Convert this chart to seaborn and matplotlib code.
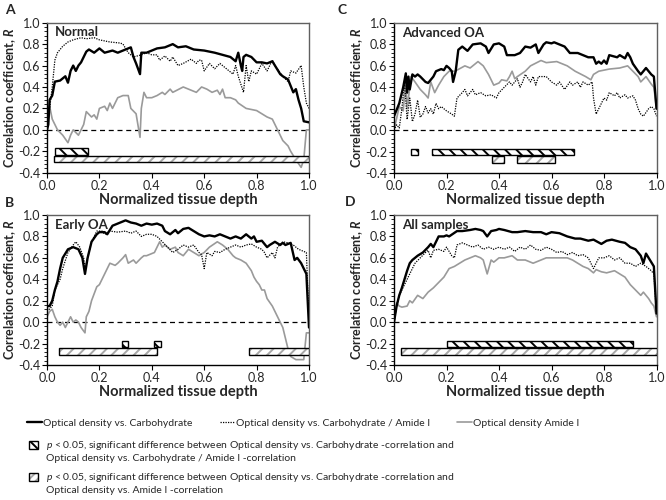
import pandas as pd
import seaborn as sns
import matplotlib.pyplot as plt
from matplotlib.patches import Patch
from matplotlib.lines import Line2D
from matplotlib.ticker import MultipleLocator, FormatStrFormatter

# (normalized depth, R)
A_carb = [(0.0, 0.0), (0.005, 0.05), (0.01, 0.28), (0.02, 0.32), (0.03, 0.45), (0.05, 0.46), (0.06, 0.48),
          (0.07, 0.5), (0.08, 0.44), (0.09, 0.55), (0.1, 0.6), (0.11, 0.55), (0.12, 0.6), (0.13, 0.63),
          (0.14, 0.68), (0.15, 0.73), (0.16, 0.75), (0.18, 0.72), (0.2, 0.76), (0.22, 0.72), (0.25, 0.74),
          (0.27, 0.72), (0.3, 0.75), (0.32, 0.77), (0.33, 0.68), (0.34, 0.62), (0.355, 0.52), (0.36, 0.72),
          (0.38, 0.72), (0.4, 0.74), (0.42, 0.76), (0.45, 0.77), (0.48, 0.8), (0.5, 0.77), (0.53, 0.78),
          (0.56, 0.75), (0.6, 0.74), (0.64, 0.72), (0.67, 0.7), (0.7, 0.68), (0.72, 0.64), (0.73, 0.72),
          (0.74, 0.6), (0.745, 0.55), (0.75, 0.68), (0.76, 0.7), (0.78, 0.68), (0.8, 0.63), (0.82, 0.63),
          (0.84, 0.62), (0.86, 0.64), (0.87, 0.6), (0.89, 0.52), (0.9, 0.5), (0.92, 0.47), (0.94, 0.35),
          (0.95, 0.38), (0.96, 0.28), (0.97, 0.2), (0.98, 0.08), (1.0, 0.07)]
A_ratio = [(0.0, 0.0), (0.02, 0.4), (0.03, 0.65), (0.04, 0.72), (0.06, 0.78), (0.08, 0.82), (0.1, 0.84),
           (0.13, 0.86), (0.15, 0.85), (0.18, 0.86), (0.2, 0.84), (0.24, 0.82), (0.28, 0.81), (0.29, 0.8),
           (0.3, 0.76), (0.31, 0.72), (0.33, 0.68), (0.36, 0.7), (0.38, 0.72), (0.4, 0.7), (0.42, 0.7),
           (0.43, 0.65), (0.45, 0.69), (0.47, 0.64), (0.48, 0.68), (0.5, 0.6), (0.52, 0.62), (0.55, 0.66),
           (0.57, 0.62), (0.58, 0.65), (0.59, 0.65), (0.6, 0.55), (0.62, 0.62), (0.64, 0.57), (0.66, 0.62),
           (0.68, 0.58), (0.71, 0.52), (0.72, 0.6), (0.73, 0.5), (0.75, 0.35), (0.76, 0.6), (0.77, 0.45),
           (0.78, 0.55), (0.8, 0.52), (0.82, 0.62), (0.84, 0.55), (0.86, 0.65), (0.87, 0.6), (0.9, 0.5),
           (0.92, 0.45), (0.93, 0.55), (0.95, 0.53), (0.97, 0.6), (0.98, 0.4), (0.99, 0.25), (1.0, 0.2)]
A_amide = [(0.0, 0.0), (0.01, 0.22), (0.02, 0.1), (0.04, 0.0), (0.06, -0.05), (0.08, -0.12), (0.09, -0.05),
           (0.1, 0.0), (0.12, -0.05), (0.14, 0.05), (0.15, 0.17), (0.17, 0.12), (0.18, 0.14), (0.19, 0.1),
           (0.2, 0.2), (0.22, 0.22), (0.23, 0.18), (0.24, 0.25), (0.25, 0.2), (0.27, 0.3), (0.29, 0.32),
           (0.31, 0.32), (0.32, 0.2), (0.34, 0.15), (0.355, -0.07), (0.36, 0.2), (0.37, 0.35), (0.38, 0.3),
           (0.4, 0.3), (0.42, 0.32), (0.44, 0.35), (0.45, 0.33), (0.47, 0.38), (0.48, 0.35), (0.52, 0.4),
           (0.55, 0.37), (0.57, 0.35), (0.59, 0.4), (0.61, 0.38), (0.63, 0.35), (0.65, 0.37), (0.66, 0.33),
           (0.67, 0.38), (0.68, 0.3), (0.7, 0.3), (0.72, 0.28), (0.73, 0.25), (0.76, 0.2), (0.8, 0.18),
           (0.82, 0.15), (0.84, 0.12), (0.86, 0.1), (0.88, 0.0), (0.9, -0.1), (0.92, -0.15), (0.93, -0.2),
           (0.95, -0.28), (0.97, -0.35), (0.98, -0.28), (0.99, 0.0), (1.0, 0.0)]

B_carb = [(0.0, 0.15), (0.01, 0.15), (0.02, 0.2), (0.03, 0.3), (0.04, 0.38), (0.05, 0.5), (0.06, 0.6),
          (0.08, 0.68), (0.1, 0.7), (0.12, 0.68), (0.135, 0.6), (0.145, 0.45), (0.155, 0.6), (0.17, 0.75),
          (0.19, 0.82), (0.2, 0.84), (0.22, 0.84), (0.23, 0.82), (0.25, 0.9), (0.27, 0.92), (0.29, 0.94),
          (0.3, 0.95), (0.32, 0.93), (0.34, 0.92), (0.36, 0.9), (0.38, 0.92), (0.4, 0.91), (0.42, 0.92),
          (0.44, 0.9), (0.45, 0.85), (0.47, 0.82), (0.49, 0.86), (0.5, 0.83), (0.52, 0.87), (0.54, 0.88),
          (0.56, 0.85), (0.58, 0.82), (0.6, 0.8), (0.62, 0.81), (0.64, 0.8), (0.66, 0.82), (0.68, 0.8),
          (0.7, 0.78), (0.72, 0.8), (0.74, 0.78), (0.76, 0.82), (0.78, 0.78), (0.79, 0.8), (0.8, 0.75),
          (0.82, 0.76), (0.84, 0.7), (0.85, 0.72), (0.87, 0.75), (0.89, 0.72), (0.9, 0.74), (0.91, 0.72),
          (0.93, 0.74), (0.945, 0.58), (0.955, 0.6), (0.97, 0.55), (0.98, 0.5), (0.99, 0.45), (1.0, -0.05)]
B_ratio = [(0.0, 0.1), (0.02, 0.15), (0.03, 0.3), (0.05, 0.4), (0.06, 0.5), (0.08, 0.65), (0.1, 0.72),
           (0.11, 0.75), (0.125, 0.7), (0.14, 0.6), (0.145, 0.5), (0.155, 0.6), (0.17, 0.75), (0.19, 0.85),
           (0.21, 0.85), (0.22, 0.82), (0.24, 0.85), (0.27, 0.84), (0.3, 0.85), (0.32, 0.83), (0.34, 0.85),
           (0.36, 0.8), (0.38, 0.82), (0.4, 0.82), (0.42, 0.8), (0.44, 0.75), (0.46, 0.7), (0.48, 0.65),
           (0.5, 0.68), (0.52, 0.72), (0.54, 0.7), (0.56, 0.72), (0.58, 0.65), (0.59, 0.63), (0.6, 0.5),
           (0.61, 0.65), (0.63, 0.62), (0.64, 0.66), (0.66, 0.65), (0.68, 0.68), (0.7, 0.7), (0.72, 0.72),
           (0.74, 0.7), (0.76, 0.72), (0.78, 0.73), (0.8, 0.7), (0.82, 0.68), (0.83, 0.65), (0.84, 0.6),
           (0.86, 0.65), (0.87, 0.6), (0.88, 0.7), (0.9, 0.75), (0.92, 0.74), (0.94, 0.72), (0.96, 0.68),
           (0.99, 0.65), (1.0, 0.0)]
B_amide = [(0.0, 0.05), (0.01, 0.1), (0.02, 0.12), (0.03, 0.05), (0.04, 0.0), (0.05, -0.03), (0.06, 0.0),
           (0.07, -0.05), (0.08, 0.0), (0.09, 0.05), (0.1, 0.0), (0.11, 0.02), (0.12, 0.0), (0.13, -0.05),
           (0.145, -0.1), (0.15, 0.05), (0.16, 0.1), (0.17, 0.2), (0.19, 0.33), (0.2, 0.35), (0.21, 0.4),
           (0.23, 0.5), (0.24, 0.55), (0.26, 0.53), (0.27, 0.55), (0.29, 0.6), (0.3, 0.63), (0.31, 0.55),
           (0.33, 0.58), (0.34, 0.55), (0.36, 0.6), (0.37, 0.62), (0.38, 0.62), (0.39, 0.63), (0.41, 0.65),
           (0.42, 0.7), (0.43, 0.75), (0.44, 0.7), (0.45, 0.72), (0.47, 0.68), (0.49, 0.7), (0.5, 0.65),
           (0.52, 0.62), (0.54, 0.68), (0.56, 0.65), (0.58, 0.62), (0.6, 0.65), (0.62, 0.7), (0.65, 0.75),
           (0.67, 0.72), (0.69, 0.68), (0.71, 0.62), (0.72, 0.6), (0.74, 0.58), (0.76, 0.55), (0.78, 0.48),
           (0.79, 0.42), (0.8, 0.38), (0.81, 0.35), (0.82, 0.3), (0.83, 0.3), (0.84, 0.22), (0.86, 0.15),
           (0.88, 0.05), (0.9, -0.05), (0.91, -0.15), (0.92, -0.25), (0.93, -0.32), (0.95, -0.35),
           (0.97, -0.35), (0.98, -0.35), (0.99, -0.1), (1.0, -0.1)]

C_carb = [(0.0, 0.13), (0.02, 0.25), (0.035, 0.4), (0.045, 0.53), (0.05, 0.35), (0.055, 0.5), (0.06, 0.38),
          (0.07, 0.52), (0.08, 0.5), (0.09, 0.52), (0.1, 0.5), (0.12, 0.45), (0.13, 0.44), (0.15, 0.5),
          (0.16, 0.55), (0.18, 0.57), (0.19, 0.56), (0.2, 0.6), (0.21, 0.58), (0.22, 0.55), (0.225, 0.45),
          (0.235, 0.55), (0.245, 0.75), (0.26, 0.78), (0.28, 0.74), (0.3, 0.8), (0.33, 0.81), (0.35, 0.78),
          (0.36, 0.72), (0.38, 0.8), (0.4, 0.81), (0.42, 0.78), (0.43, 0.7), (0.46, 0.7), (0.48, 0.72),
          (0.5, 0.78), (0.52, 0.77), (0.54, 0.8), (0.55, 0.72), (0.57, 0.8), (0.58, 0.82), (0.6, 0.81),
          (0.61, 0.82), (0.63, 0.8), (0.65, 0.78), (0.67, 0.72), (0.7, 0.72), (0.72, 0.7), (0.74, 0.68),
          (0.76, 0.68), (0.77, 0.62), (0.78, 0.64), (0.79, 0.62), (0.8, 0.65), (0.81, 0.62), (0.82, 0.7),
          (0.85, 0.68), (0.86, 0.7), (0.88, 0.67), (0.89, 0.72), (0.9, 0.68), (0.91, 0.62), (0.93, 0.55),
          (0.94, 0.52), (0.96, 0.58), (0.98, 0.52), (0.99, 0.5), (1.0, 0.2)]
C_ratio = [(0.0, 0.0), (0.01, 0.05), (0.02, 0.02), (0.03, 0.2), (0.04, 0.45), (0.05, 0.1), (0.06, 0.3),
           (0.07, 0.08), (0.08, 0.15), (0.09, 0.28), (0.1, 0.12), (0.11, 0.15), (0.12, 0.22), (0.13, 0.16),
           (0.14, 0.2), (0.15, 0.15), (0.16, 0.25), (0.17, 0.2), (0.18, 0.22), (0.2, 0.18), (0.22, 0.15),
           (0.23, 0.13), (0.24, 0.3), (0.26, 0.35), (0.27, 0.38), (0.28, 0.32), (0.3, 0.38), (0.31, 0.33),
           (0.33, 0.35), (0.35, 0.32), (0.37, 0.33), (0.39, 0.3), (0.4, 0.35), (0.42, 0.4), (0.44, 0.45),
           (0.45, 0.42), (0.47, 0.48), (0.48, 0.4), (0.49, 0.45), (0.5, 0.52), (0.52, 0.45), (0.53, 0.5),
           (0.54, 0.42), (0.55, 0.5), (0.58, 0.5), (0.6, 0.45), (0.62, 0.42), (0.63, 0.45), (0.65, 0.38),
           (0.67, 0.45), (0.68, 0.42), (0.7, 0.45), (0.71, 0.4), (0.72, 0.45), (0.74, 0.42), (0.755, 0.45),
           (0.76, 0.3), (0.77, 0.15), (0.79, 0.25), (0.8, 0.3), (0.81, 0.28), (0.82, 0.35), (0.84, 0.32),
           (0.85, 0.35), (0.86, 0.3), (0.88, 0.33), (0.89, 0.3), (0.91, 0.32), (0.92, 0.28), (0.93, 0.2),
           (0.94, 0.15), (0.95, 0.13), (0.97, 0.2), (0.98, 0.22), (0.99, 0.2), (1.0, 0.13)]
C_amide = [(0.0, 0.0), (0.02, 0.22), (0.035, 0.18), (0.045, 0.45), (0.05, 0.2), (0.065, 0.5), (0.08, 0.45),
           (0.1, 0.38), (0.12, 0.33), (0.13, 0.3), (0.14, 0.45), (0.155, 0.35), (0.17, 0.42), (0.19, 0.5),
           (0.21, 0.55), (0.23, 0.55), (0.24, 0.56), (0.27, 0.6), (0.29, 0.58), (0.31, 0.62), (0.32, 0.64),
           (0.34, 0.6), (0.36, 0.52), (0.38, 0.42), (0.4, 0.44), (0.41, 0.47), (0.43, 0.46), (0.44, 0.5),
           (0.45, 0.55), (0.46, 0.48), (0.47, 0.5), (0.5, 0.55), (0.52, 0.6), (0.56, 0.65), (0.58, 0.63),
           (0.62, 0.64), (0.66, 0.6), (0.69, 0.55), (0.73, 0.5), (0.75, 0.47), (0.76, 0.52), (0.78, 0.55),
           (0.82, 0.57), (0.86, 0.58), (0.89, 0.6), (0.91, 0.55), (0.93, 0.5), (0.94, 0.45), (0.96, 0.5),
           (0.98, 0.43), (0.99, 0.4), (1.0, 0.2)]

D_carb = [(0.0, 0.0), (0.01, 0.15), (0.02, 0.25), (0.03, 0.32), (0.04, 0.4), (0.05, 0.48), (0.06, 0.55),
          (0.07, 0.58), (0.09, 0.62), (0.11, 0.65), (0.13, 0.7), (0.14, 0.73), (0.15, 0.7), (0.16, 0.75),
          (0.17, 0.8), (0.19, 0.8), (0.2, 0.81), (0.21, 0.8), (0.24, 0.85), (0.26, 0.85), (0.29, 0.86),
          (0.31, 0.87), (0.33, 0.86), (0.34, 0.85), (0.355, 0.8), (0.37, 0.85), (0.39, 0.86), (0.4, 0.87),
          (0.42, 0.86), (0.45, 0.84), (0.47, 0.84), (0.5, 0.85), (0.53, 0.84), (0.56, 0.84), (0.58, 0.82),
          (0.6, 0.84), (0.63, 0.83), (0.66, 0.8), (0.69, 0.78), (0.71, 0.78), (0.74, 0.76), (0.76, 0.77),
          (0.79, 0.73), (0.81, 0.76), (0.83, 0.77), (0.86, 0.75), (0.88, 0.74), (0.9, 0.7), (0.92, 0.68),
          (0.94, 0.62), (0.95, 0.55), (0.96, 0.64), (0.97, 0.6), (0.99, 0.52), (1.0, 0.08)]
D_ratio = [(0.0, 0.0), (0.01, 0.15), (0.02, 0.25), (0.04, 0.35), (0.06, 0.45), (0.08, 0.55), (0.1, 0.6),
           (0.12, 0.65), (0.13, 0.67), (0.14, 0.6), (0.15, 0.67), (0.17, 0.68), (0.19, 0.66), (0.2, 0.7),
           (0.22, 0.62), (0.23, 0.6), (0.24, 0.72), (0.26, 0.74), (0.28, 0.72), (0.3, 0.7), (0.32, 0.72),
           (0.34, 0.68), (0.36, 0.7), (0.38, 0.68), (0.4, 0.7), (0.42, 0.68), (0.44, 0.7), (0.46, 0.66),
           (0.48, 0.7), (0.5, 0.68), (0.52, 0.72), (0.54, 0.68), (0.56, 0.67), (0.58, 0.7), (0.6, 0.68),
           (0.62, 0.65), (0.64, 0.66), (0.66, 0.63), (0.68, 0.65), (0.7, 0.62), (0.72, 0.63), (0.74, 0.6),
           (0.76, 0.5), (0.78, 0.6), (0.8, 0.6), (0.82, 0.62), (0.84, 0.58), (0.86, 0.6), (0.88, 0.55),
           (0.9, 0.55), (0.92, 0.52), (0.94, 0.55), (0.96, 0.52), (0.98, 0.48), (0.99, 0.45), (1.0, 0.08)]
D_amide = [(0.0, 0.0), (0.01, 0.18), (0.02, 0.15), (0.03, 0.14), (0.05, 0.15), (0.06, 0.2), (0.07, 0.18),
           (0.09, 0.25), (0.11, 0.22), (0.13, 0.28), (0.15, 0.32), (0.17, 0.37), (0.19, 0.42), (0.21, 0.5),
           (0.23, 0.52), (0.25, 0.55), (0.27, 0.58), (0.29, 0.6), (0.31, 0.62), (0.33, 0.6), (0.34, 0.58),
           (0.355, 0.45), (0.37, 0.58), (0.38, 0.56), (0.4, 0.6), (0.42, 0.6), (0.45, 0.62), (0.47, 0.58),
           (0.5, 0.58), (0.53, 0.55), (0.56, 0.58), (0.58, 0.6), (0.62, 0.6), (0.66, 0.6), (0.68, 0.58),
           (0.7, 0.55), (0.72, 0.52), (0.74, 0.5), (0.76, 0.46), (0.77, 0.49), (0.79, 0.47), (0.81, 0.46),
           (0.84, 0.48), (0.86, 0.45), (0.88, 0.42), (0.9, 0.35), (0.92, 0.3), (0.94, 0.25), (0.95, 0.28),
           (0.97, 0.22), (0.98, 0.18), (0.99, 0.15), (1.0, 0.05)]

# significance bars: (start, end)
A_sig_ratio = [(0.03, 0.155)]
A_sig_amide = [(0.025, 1.0)]
B_sig_ratio = [(0.285, 0.31), (0.41, 0.435)]
B_sig_amide = [(0.045, 0.42), (0.77, 1.0)]
C_sig_ratio = [(0.065, 0.09), (0.145, 0.685)]
C_sig_amide = [(0.375, 0.42), (0.47, 0.615)]
D_sig_ratio = [(0.2, 0.91)]
D_sig_amide = [(0.025, 1.0)]

panel_titles = ["Normal", "Early OA", "Advanced OA", "All samples"]
panel_letters = ["A", "B", "C", "D"]

sns.set_style("ticks")
plt.rcParams['font.family'] = ['Lato', 'DejaVu Sans']
plt.rcParams['axes.unicode_minus'] = False
plt.rcParams['mathtext.fontset'] = 'custom'
plt.rcParams['mathtext.it'] = 'Lato:italic:bold'
plt.rcParams['mathtext.rm'] = 'Lato:italic'
plt.rcParams['hatch.linewidth'] = 1.4

GRAY = '#9a9a9a'
HGRAY = '#a8a8a8'

fig = plt.figure(figsize=(6.66, 5), dpi=100)
boxes = [
    [47 / 666, 1 - 172.7 / 500, 262 / 666, 150 / 500],
    [47 / 666, 1 - 365 / 500, 262 / 666, 150 / 500],
    [394 / 666, 1 - 173 / 500, 262.5 / 666, 150 / 500],
    [394 / 666, 1 - 365 / 500, 262.5 / 666, 150 / 500],
]
series = [(A_carb, A_ratio, A_amide), (B_carb, B_ratio, B_amide),
          (C_carb, C_ratio, C_amide), (D_carb, D_ratio, D_amide)]
sigs = [(A_sig_ratio, A_sig_amide), (B_sig_ratio, B_sig_amide),
        (C_sig_ratio, C_sig_amide), (D_sig_ratio, D_sig_amide)]
letter_pos = [(5, 10), (5, 203), (338, 10), (345, 202)]

for i in range(4):
    ax = fig.add_axes(boxes[i])
    carb, ratio, amide = series[i]
    da = pd.DataFrame(amide, columns=['depth', 'r'])
    dr = pd.DataFrame(ratio, columns=['depth', 'r'])
    dc = pd.DataFrame(carb, columns=['depth', 'r'])
    ax.axhline(0, color='black', lw=0.9, ls=(0, (4, 3)), zorder=1)
    sns.lineplot(data=da, x='depth', y='r', color=GRAY, lw=1.2, ax=ax, estimator=None, zorder=2)
    sns.lineplot(data=dr, x='depth', y='r', color='black', lw=0.9, ls=(0, (1, 1)), ax=ax,
                 estimator=None, zorder=3)
    sns.lineplot(data=dc, x='depth', y='r', color='black', lw=1.7, ax=ax, estimator=None, zorder=4)

    s_ratio, s_amide = sigs[i]
    ax.barh([-0.272] * len(s_amide), [e - s for s, e in s_amide], left=[s for s, e in s_amide],
            height=0.062, color='white', edgecolor=HGRAY, hatch='///', lw=0, zorder=5)
    ax.barh([-0.272] * len(s_amide), [e - s for s, e in s_amide], left=[s for s, e in s_amide],
            height=0.062, fill=False, edgecolor='black', lw=1.0, zorder=6)
    ax.barh([-0.205] * len(s_ratio), [e - s for s, e in s_ratio], left=[s for s, e in s_ratio],
            height=0.062, color='white', edgecolor='black', hatch='\\\\\\', lw=1.0, zorder=7)

    ax.set_xlim(0, 1)
    ax.set_ylim(-0.4, 1.0)
    ax.xaxis.set_major_locator(MultipleLocator(0.2))
    ax.yaxis.set_major_locator(MultipleLocator(0.2))
    ax.yaxis.set_minor_locator(MultipleLocator(0.04))
    ax.xaxis.set_major_formatter(FormatStrFormatter('%.1f'))
    ax.yaxis.set_major_formatter(FormatStrFormatter('%.1f'))
    ax.tick_params(axis='both', which='major', labelsize=9, length=3.5, width=0.8, pad=1.5, color='black')
    ax.tick_params(axis='y', which='minor', length=2, width=0.6, color='black')
    for side in ['left', 'bottom']:
        ax.spines[side].set_color('black')
        ax.spines[side].set_linewidth(1.0)
    for side in ['top', 'right']:
        ax.spines[side].set_color('#606060')
        ax.spines[side].set_linewidth(1.0)
    ax.set_xlabel("Normalized tissue depth", fontsize=10.5, fontweight='bold', labelpad=1)
    ax.set_ylabel("Correlation coefficient, $R$", fontsize=9, fontweight='bold')
    ax.yaxis.set_label_coords(-0.112, 0.5)
    ax.text(0.03, 0.975, panel_titles[i], transform=ax.transAxes, ha='left', va='top',
            fontsize=9.5, fontweight='bold')
    lx, ly = letter_pos[i]
    fig.text(lx / 666, 1 - ly / 500, panel_letters[i], fontsize=10, fontweight='bold',
             ha='left', va='center')

# legends
line_handles = [Line2D([], [], color='black', lw=1.7),
                Line2D([], [], color='black', lw=0.9, ls=(0, (1, 1))),
                Line2D([], [], color=GRAY, lw=1.2)]
line_labels = ["Optical density vs. Carbohydrate", "Optical density vs. Carbohydrate / Amide I",
               "Optical density Amide I"]
fig.legend(line_handles, line_labels, loc='center left', bbox_to_anchor=(27 / 666, 1 - 423 / 500),
           ncol=3, frameon=False, fontsize=7.5, handlelength=1.4, handletextpad=0.15,
           columnspacing=2.6, borderpad=0, borderaxespad=0)

blank = Patch(visible=False)
h_ratio = Patch(facecolor='white', edgecolor='black', hatch='\\\\\\', lw=1.0)
h_amide = (Patch(facecolor='white', edgecolor=HGRAY, hatch='////', lw=0),
           Patch(fill=False, edgecolor='black', lw=1.0))
fig.legend([h_ratio, blank],
           ["$\\mathrm{p}$ < 0.05, significant difference between Optical density vs. Carbohydrate -correlation and",
            "Optical density vs. Carbohydrate / Amide I -correlation"],
           loc='upper left', bbox_to_anchor=(29 / 666, 1 - 439.5 / 500), frameon=False, fontsize=7.5,
           handlelength=0.9, handleheight=0.75, handletextpad=0.7, labelspacing=0.08,
           borderpad=0, borderaxespad=0)
fig.legend([h_amide, blank],
           ["$\\mathrm{p}$ < 0.05, significant difference between Optical density vs. Carbohydrate -correlation and",
            "Optical density vs. Amide I -correlation"],
           loc='upper left', bbox_to_anchor=(29 / 666, 1 - 471.5 / 500), frameon=False, fontsize=7.5,
           handlelength=0.9, handleheight=0.75, handletextpad=0.7, labelspacing=0.08,
           borderpad=0, borderaxespad=0)

fig.savefig("out.png", dpi=100)
